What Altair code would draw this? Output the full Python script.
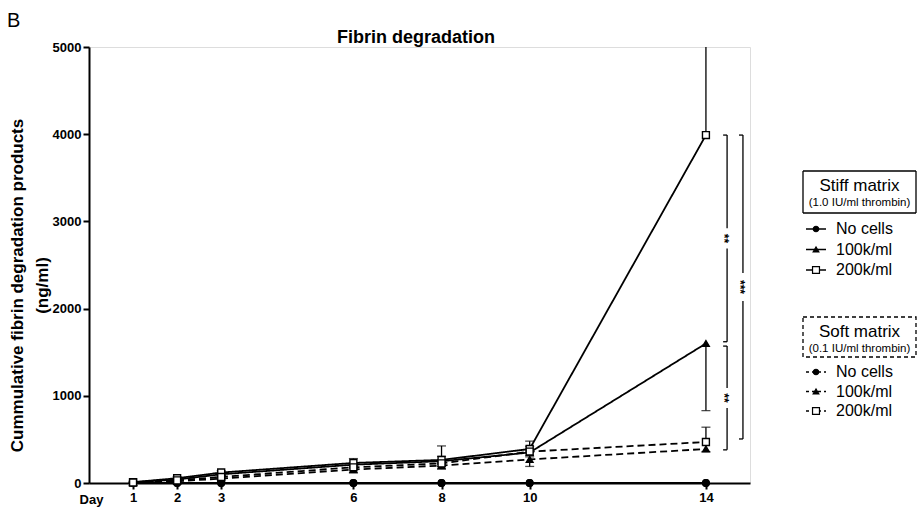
import altair as alt
import pandas as pd

FONT = "Liberation Sans"

# ---------------- data ----------------
days = [1, 2, 3, 6, 8, 10, 14]
cell_levels = ["No cells", "100k/ml", "200k/ml"]
matrix_levels = ["Stiff", "Soft"]

stiff_none = [0, 0, 0, 0, 0, 0, 0]
stiff_100k = [8, 40, 100, 210, 250, 350, 1600]
stiff_200k = [10, 55, 120, 230, 265, 390, 3990]
soft_none = [0, 0, 0, 0, 0, 0, 0]
soft_100k = [4, 20, 50, 155, 200, 270, 390]
soft_200k = [6, 30, 70, 180, 225, 360, 470]

# one-sided error bars (GraphPad style)
stiff_100k_err = [5, 10, 15, 40, 60, 50, 770]      # below
stiff_200k_err = [10, 15, 20, 50, 160, 90, 1400]   # above
soft_100k_err = [3, 10, 15, 40, 40, 80, 30]        # below
soft_200k_err = [5, 10, 15, 40, 80, 60, 170]       # above

sig_labels = ["**", "**", "***"]
sig_day = [14.48, 14.48, 14.84]
sig_top = [3990, 1570, 3990]
sig_bottom = [1620, 380, 505]

x_ticks = [1, 2, 3, 6, 8, 10, 14]
y_ticks = [0, 1000, 2000, 3000, 4000, 5000]

chart_title = "Fibrin degradation"
y_title = ["Cummulative fibrin degradation products", "(ng/ml)"]

# ---------------- tables ----------------
series = [
    ("Stiff", "No cells", stiff_none, None, None),
    ("Stiff", "100k/ml", stiff_100k, stiff_100k_err, "down"),
    ("Stiff", "200k/ml", stiff_200k, stiff_200k_err, "up"),
    ("Soft", "No cells", soft_none, None, None),
    ("Soft", "100k/ml", soft_100k, soft_100k_err, "down"),
    ("Soft", "200k/ml", soft_200k, soft_200k_err, "up"),
]
rows, err_rows = [], []
for m, c, vals, errs, d in series:
    for i, (day, v) in enumerate(zip(days, vals)):
        rows.append({"matrix": m, "cells": c, "series": m + c, "day": day, "value": v})
        if errs is not None:
            e = errs[i]
            lo, hi = (v, v + e) if d == "up" else (v - e, v)
            err_rows.append({"day": day, "lo": lo, "hi": hi,
                             "cap": hi if d == "up" else lo})
df = pd.DataFrame(rows)
edf = pd.DataFrame(err_rows)

PX = 5000 / 436.0  # data units per pixel on y
seg_rows, tick_rows, txt_rows = [], [], []
for lab, xd, top, bot in zip(sig_labels, sig_day, sig_top, sig_bottom):
    mid = (top + bot) / 2
    half = (len(lab) * 3.8 + 2.5) * PX
    seg_rows.append({"x": xd, "y": top, "y2": mid + half})
    seg_rows.append({"x": xd, "y": mid - half, "y2": bot})
    tick_rows.append({"x": xd - 0.09, "x2": xd, "y": top})
    tick_rows.append({"x": xd - 0.09, "x2": xd, "y": bot})
    txt_rows.append({"x": xd, "y": mid, "t": lab})
sdf = pd.DataFrame(seg_rows)
tdf = pd.DataFrame(tick_rows)
xdf = pd.DataFrame(txt_rows)

# ---------------- scales ----------------
xs = alt.Scale(domain=[0, 15], nice=False, zero=False)
ys = alt.Scale(domain=[0, 5000], nice=False)
shape_scale = alt.Scale(domain=cell_levels, range=["circle", "triangle-up", "square"])
fill_scale = alt.Scale(domain=cell_levels, range=["black", "black", "white"])
size_scale = alt.Scale(domain=cell_levels, range=[42, 48, 72])
dash_scale = alt.Scale(domain=matrix_levels, range=[[1, 0], [7, 4]])

X = alt.X("day:Q", scale=xs, axis=alt.Axis(
    values=x_ticks, title="Day", titleX=2, titleY=20, titleAlign="center",
    titleBaseline="alphabetic", titleFont=FONT, titleFontSize=13,
    titleFontWeight="bold", titleColor="black", labelFont=FONT,
    labelFontSize=13, labelFontWeight="bold", labelColor="black",
    tickSize=6, tickWidth=2, tickColor="black", domainWidth=2,
    domainColor="black", grid=False, labelPadding=2, format="d"))
Y = alt.Y("value:Q", scale=ys, axis=alt.Axis(
    values=y_ticks, title=y_title,
    titleFont=FONT, titleFontSize=17, titleFontWeight="bold", titleColor="black",
    titleLineHeight=25, titleY=238, titlePadding=1,
    labelFont=FONT, labelFontSize=13, labelFontWeight="bold", labelColor="black",
    tickSize=6, tickWidth=2, tickColor="black", domainWidth=2,
    domainColor="black", grid=False, labelPadding=2, format="d"))

base = alt.Chart(df)

lines = base.mark_line(color="black", strokeWidth=1.8).encode(
    x=X, y=Y, detail="series:N",
    strokeDash=alt.StrokeDash("matrix:N", scale=dash_scale, legend=None),
)

err_rule = alt.Chart(edf).mark_rule(color="black", strokeWidth=1.3, clip=True).encode(
    x=alt.X("day:Q", scale=xs), y=alt.Y("lo:Q", scale=ys), y2="hi:Q")
err_cap = alt.Chart(edf).mark_tick(color="black", orient="horizontal", size=9,
                                   thickness=1.3, clip=True).encode(
    x=alt.X("day:Q", scale=xs), y=alt.Y("cap:Q", scale=ys))

points = base.mark_point(filled=True, stroke="black", strokeWidth=1.4, opacity=1).encode(
    x=alt.X("day:Q", scale=xs), y=alt.Y("value:Q", scale=ys),
    shape=alt.Shape("cells:N", scale=shape_scale, legend=None),
    fill=alt.Fill("cells:N", scale=fill_scale, legend=None),
    size=alt.Size("cells:N", scale=size_scale, legend=None),
)

br_seg = alt.Chart(sdf).mark_rule(color="black", strokeWidth=1.3).encode(
    x=alt.X("x:Q", scale=xs), y=alt.Y("y:Q", scale=ys), y2="y2:Q")
br_tick = alt.Chart(tdf).mark_rule(color="black", strokeWidth=1.3).encode(
    x=alt.X("x:Q", scale=xs), x2="x2:Q", y=alt.Y("y:Q", scale=ys))
br_txt = alt.Chart(xdf).mark_text(angle=90, font=FONT, fontSize=12, fontWeight="bold",
                                  baseline="middle", align="center", dy=3,
                                  color="black").encode(
    x=alt.X("x:Q", scale=xs), y=alt.Y("y:Q", scale=ys), text="t:N")

one = pd.DataFrame({"k": [0]})
panel_label = alt.Chart(one).mark_text(text="B", font=FONT, fontSize=20, align="left",
                                       baseline="alphabetic", color="black").encode(
    x=alt.value(-82), y=alt.value(-20))
title_mark = alt.Chart(one).mark_text(text=chart_title, font=FONT, fontSize=18,
                                      fontWeight="bold", align="center",
                                      baseline="alphabetic", color="black").encode(
    x=alt.value(327), y=alt.value(-4))

# ---------------- custom legend (boxed group titles) ----------------
legend_layers = []
groups = [
    ("Stiff", "Stiff matrix", "(1.0 IU/ml thrombin)", 124, 166, [182, 202.5, 223], [1, 0]),
    ("Soft", "Soft matrix", "(0.1 IU/ml thrombin)", 270, 310, [325, 344.5, 364], [3, 3]),
]
for m, head, sub, top, bot, ys_rows, dash in groups:
    legend_layers.append(alt.Chart(one).mark_rect(
        fill="white", stroke="black", strokeWidth=1.3,
        strokeDash=[1, 0] if m == "Stiff" else [4, 3]).encode(
        x=alt.value(714), x2=alt.value(827), y=alt.value(top), y2=alt.value(bot)))
    legend_layers.append(alt.Chart(one).mark_text(
        text=head, font=FONT, fontSize=17, align="center", baseline="middle",
        color="black").encode(x=alt.value(770.5), y=alt.value(top + 15)))
    legend_layers.append(alt.Chart(one).mark_text(
        text=sub, font=FONT, fontSize=11.5, align="center", baseline="middle",
        color="black").encode(x=alt.value(770.5), y=alt.value(top + 32)))
    for c, yy in zip(cell_levels, ys_rows):
        legend_layers.append(alt.Chart(one).mark_rule(
            color="black", strokeWidth=1.5, strokeDash=dash).encode(
            x=alt.value(717), x2=alt.value(737), y=alt.value(yy)))
        sh = {"No cells": "circle", "100k/ml": "triangle-up", "200k/ml": "square"}[c]
        fl = "white" if c == "200k/ml" else "black"
        sz = {"No cells": 30, "100k/ml": 32, "200k/ml": 48}[c]
        legend_layers.append(alt.Chart(one).mark_point(
            shape=sh, filled=True, fill=fl, stroke="black", strokeWidth=1.2,
            size=sz, opacity=1).encode(x=alt.value(727), y=alt.value(yy)))
        legend_layers.append(alt.Chart(one).mark_text(
            text=c, font=FONT, fontSize=16, align="left", baseline="middle",
            color="black").encode(x=alt.value(747), y=alt.value(yy)))

chart = alt.layer(
    lines, err_rule, err_cap, points, br_seg, br_tick, br_txt, panel_label,
    title_mark, *legend_layers
).properties(
    width=661, height=436,
    autosize=alt.AutoSizeParams(type="none"),
    padding={"left": 89, "top": 47, "right": 171, "bottom": 30},
).configure_view(stroke=None).configure(background="white")

chart.save("out.html", embed_options={"renderer": "svg", "actions": False})
